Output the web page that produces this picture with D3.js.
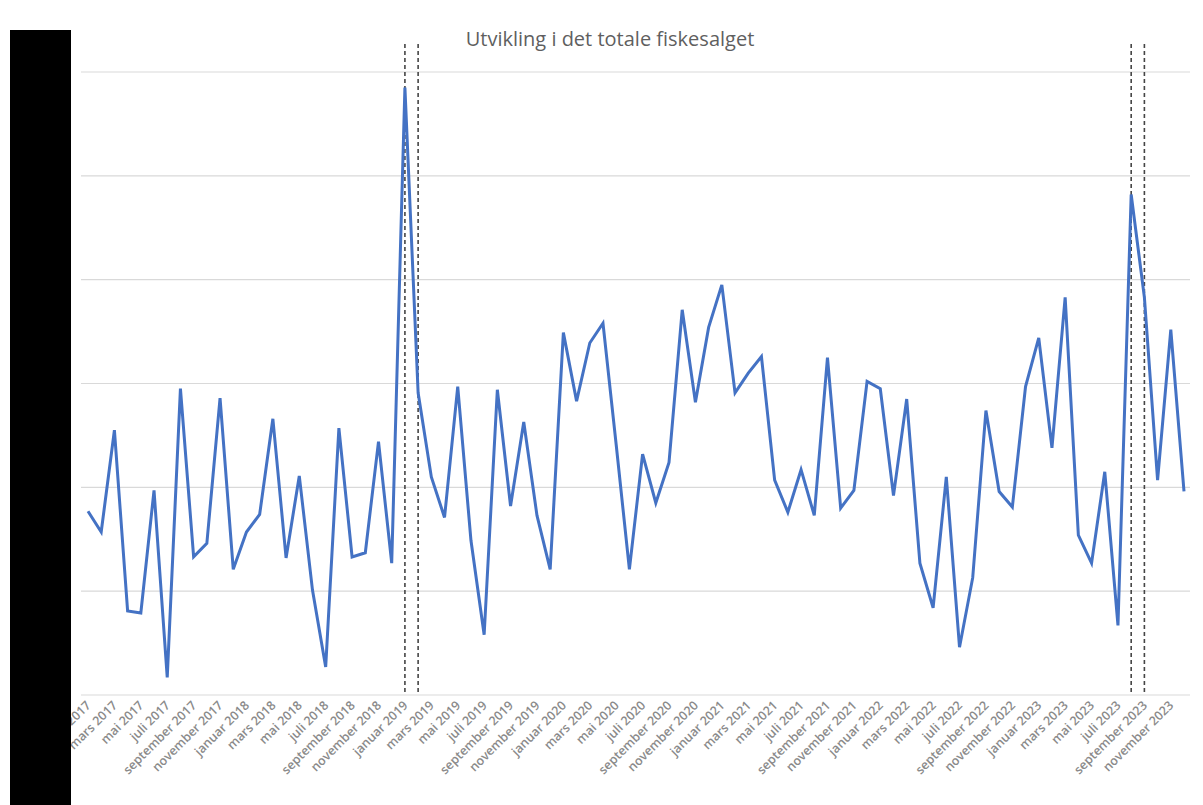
<!DOCTYPE html>
<html>
<head>
<meta charset="utf-8">
<script src="https://cdn.jsdelivr.net/npm/d3@7"></script>
<style>
  body { margin: 0; background: #fff; }
  svg { display: block; }
  .tick-label { font-family: "Open Sans", Lato, sans-serif; font-size: 12.5px; fill: #8a8a8a; font-weight: 600; }
  .title { font-family: "Open Sans", Lato, sans-serif; font-size: 20px; fill: #5f5f5f; }
</style>
</head>
<body>
<svg id="chart" width="1203" height="805"></svg>
<script>
"use strict";

// months, januar 2017 .. desember 2023
var monthNames = ["januar", "februar", "mars", "april", "mai", "juni",
                  "juli", "august", "september", "oktober", "november", "desember"];
var years = [2017, 2018, 2019, 2020, 2021, 2022, 2023];

// total fish sales (relative units, one gridline = 1)
var sales = [
  1.77, 1.57, 2.55, 0.81, 0.79, 1.97, 0.17, 2.95, 1.33, 1.46, 2.86, 1.21,
  1.57, 1.74, 2.66, 1.32, 2.11, 1.01, 0.27, 2.57, 1.33, 1.37, 2.44, 1.27,
  5.85, 2.91, 2.10, 1.71, 2.97, 1.49, 0.58, 2.94, 1.82, 2.63, 1.73, 1.21,
  3.49, 2.83, 3.39, 3.58, 2.41, 1.21, 2.32, 1.85, 2.24, 3.71, 2.82, 3.54,
  3.95, 2.91, 3.10, 3.26, 2.07, 1.76, 2.17, 1.73, 3.25, 1.80, 1.97, 3.02,
  2.95, 1.92, 2.85, 1.27, 0.84, 2.10, 0.46, 1.13, 2.74, 1.96, 1.81, 2.97,
  3.44, 2.38, 3.83, 1.54, 1.27, 2.15, 0.67, 4.82, 3.83, 2.07, 3.52, 1.96
];

var yTicks = [0, 1, 2, 3, 4, 5, 6];
// marked months (dashed lines)
var marked = ["januar 2019", "februar 2019", "august 2023", "september 2023"];

var months = [];
years.forEach(function(y) {
  monthNames.forEach(function(m) { months.push(m + " " + y); });
});

var svg = d3.select("#chart");

var x = d3.scalePoint()
  .domain(months)
  .range([88, 1184]);

var y = d3.scaleLinear()
  .domain([0, 6])
  .range([695, 72]);

// gridlines
svg.append("g")
  .selectAll("line")
  .data(yTicks).enter()
  .append("line")
    .attr("x1", 81)
    .attr("x2", 1190)
    .attr("y1", function(d) { return y(d); })
    .attr("y2", function(d) { return y(d); })
    .style("stroke", "#d9d9d9")
    .style("stroke-width", 1.2);

// x labels, every second month
var xAxis = d3.axisBottom(x)
  .tickValues(months.filter(function(d, i) { return i % 2 === 0; }))
  .tickSize(0)
  .tickPadding(0);

var gx = svg.append("g")
  .attr("transform", "translate(0,703)")
  .call(xAxis);
gx.select(".domain").remove();
gx.selectAll("text")
  .attr("class", "tick-label")
  .attr("text-anchor", "end")
  .attr("dy", "0.35em")
  .attr("y", 0)
  .attr("transform", "rotate(-45)");

// dashed markers
svg.append("g")
  .selectAll("line")
  .data(marked).enter()
  .append("line")
    .attr("x1", function(d) { return x(d); })
    .attr("x2", function(d) { return x(d); })
    .attr("y1", 44)
    .attr("y2", 695)
    .style("stroke", "#454545")
    .style("stroke-width", 1.6)
    .style("stroke-dasharray", "4,3");

// the sales line
var line = d3.line()
  .x(function(d, i) { return x(months[i]); })
  .y(function(d) { return y(d); });

svg.append("path")
  .datum(sales)
  .attr("d", line)
  .style("fill", "none")
  .style("stroke", "#4472c4")
  .style("stroke-width", 3)
  .style("stroke-linejoin", "miter");

// title
svg.append("text")
  .attr("class", "title")
  .attr("x", 610)
  .attr("y", 46)
  .attr("text-anchor", "middle")
  .text("Utvikling i det totale fiskesalget");

// black bar covering the y axis
svg.append("rect")
  .attr("x", 10)
  .attr("y", 30)
  .attr("width", 61)
  .attr("height", 775)
  .style("fill", "#000");
</script>
</body>
</html>
